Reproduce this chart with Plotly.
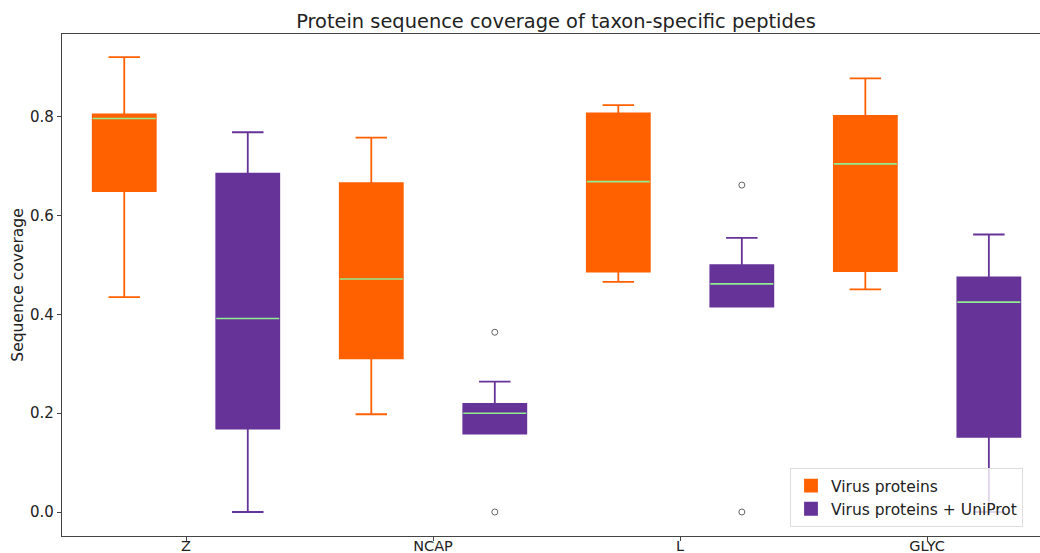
import plotly.graph_objects as go

# ---- data ----
categories = ["Z", "NCAP", "L", "GLYC"]
series_names = ["Virus proteins", "Virus proteins + UniProt"]
series_colors = ["#FF6000", "#663399"]

virus_q1 = [0.650, 0.311, 0.487, 0.488]
virus_median = [0.797, 0.472, 0.669, 0.705]
virus_q3 = [0.805, 0.666, 0.807, 0.802]
virus_lower = [0.435, 0.198, 0.466, 0.451]
virus_upper = [0.921, 0.758, 0.824, 0.878]

uniprot_q1 = [0.169, 0.159, 0.416, 0.152]
uniprot_median = [0.392, 0.200, 0.462, 0.425]
uniprot_q3 = [0.685, 0.219, 0.500, 0.475]
uniprot_lower = [0.000, 0.159, 0.416, 0.000]
uniprot_upper = [0.769, 0.264, 0.555, 0.562]

uniprot_outlier_cat = ["NCAP", "NCAP", "L", "L"]
uniprot_outlier_val = [0.364, 0.000, 0.662, 0.000]

y_ticks = [0.0, 0.2, 0.4, 0.6, 0.8]

# ---- layout constants ----
OFFSET = 0.25
BOX_W = 0.255
MEDIAN_COLOR = "#90EE90"
FONT = "DejaVu Sans"
TEXT = "#222222"
AXIS = "#444444"

series = [
    (virus_q1, virus_median, virus_q3, virus_lower, virus_upper, -OFFSET),
    (uniprot_q1, uniprot_median, uniprot_q3, uniprot_lower, uniprot_upper, OFFSET),
]

fig = go.Figure()
cat_index = {c: i for i, c in enumerate(categories)}

for (q1, med, q3, lo, hi, off), name, col in zip(series, series_names, series_colors):
    xs = [cat_index[c] + off for c in categories]
    fig.add_trace(go.Box(
        name=name, x=xs, q1=q1, median=med, q3=q3,
        lowerfence=lo, upperfence=hi,
        width=BOX_W, whiskerwidth=0.5,
        fillcolor=col, line=dict(color=col, width=1.8),
        boxpoints=False, hoverinfo="skip",
    ))

# median lines in light green
for (q1, med, q3, lo, hi, off), col in zip(series, series_colors):
    mx, my = [], []
    for c, m in zip(categories, med):
        cx = cat_index[c] + off
        mx += [cx - BOX_W / 2, cx + BOX_W / 2, None]
        my += [m, m, None]
    fig.add_trace(go.Scatter(x=mx, y=my, mode="lines",
                             line=dict(color=MEDIAN_COLOR, width=1.6),
                             showlegend=False, hoverinfo="skip"))

# outliers
fig.add_trace(go.Scatter(
    x=[cat_index[c] + OFFSET for c in uniprot_outlier_cat], y=uniprot_outlier_val,
    mode="markers",
    marker=dict(symbol="circle-open", size=6, color="#666666", line=dict(width=1)),
    showlegend=False, hoverinfo="skip"))

fig.update_layout(
    width=1040, height=553,
    margin=dict(l=62, r=0, t=34, b=17, autoexpand=False),
    paper_bgcolor="white", plot_bgcolor="white",
    font=dict(family=FONT, size=15, color=TEXT),
    title=dict(text="Protein sequence coverage of taxon-specific peptides",
               x=556 / 1040, xref="container", xanchor="center",
               y=1 - 21 / 553, yref="container", yanchor="middle",
               font=dict(family=FONT, size=19.4, color=TEXT)),
    showlegend=True,
    legend=dict(x=(790 - 62) / 978, y=(536 - 527) / 502, xanchor="left", yanchor="bottom",
                bgcolor="rgba(255,255,255,0.8)", bordercolor="#DDDDDD", borderwidth=1,
                font=dict(family=FONT, size=15.5, color=TEXT)),
)

fig.update_xaxes(
    range=[-0.502, 3.457], tickvals=list(range(len(categories))), ticktext=categories,
    showline=True, linecolor=AXIS, linewidth=1.2, mirror=True,
    ticks="outside", ticklen=4, tickcolor=AXIS, showgrid=False, zeroline=False,
    ticklabelstandoff=-8,
    tickfont=dict(family=FONT, size=14.5, color=TEXT),
)
fig.update_yaxes(
    range=[-0.0486, 0.968], tickvals=y_ticks, tickformat=".1f",
    showline=True, linecolor=AXIS, linewidth=1.2, mirror=False,
    ticks="outside", ticklen=4, tickcolor=AXIS, showgrid=False, zeroline=False,
    tickfont=dict(family=FONT, size=15, color=TEXT),
    title=dict(text="Sequence coverage", standoff=2, font=dict(family=FONT, size=15.5, color=TEXT)),
)

fig.write_html("out.html")
